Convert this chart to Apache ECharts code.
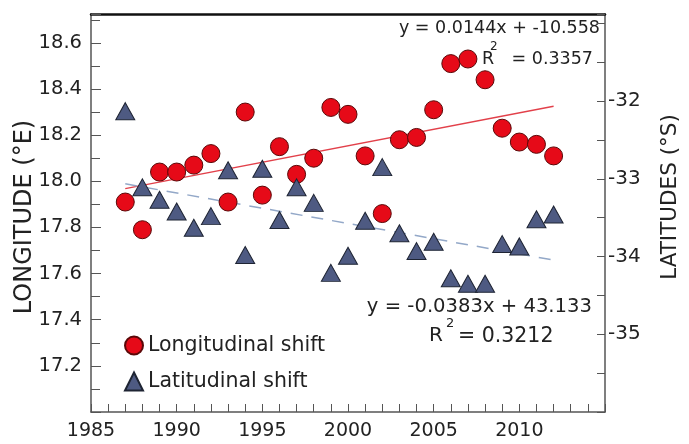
<!DOCTYPE html>
<html>
<head>
<meta charset="utf-8">
<script src="https://cdn.jsdelivr.net/npm/echarts@6/dist/echarts.min.js"></script>
<style>html,body{margin:0;padding:0;background:#fff}#c{width:689px;height:444px}</style>
</head>
<body>
<div id="c"></div>
<script>
// ---- data ----
const years = [1987,1988,1989,1990,1991,1992,1993,1994,1995,1996,1997,1998,1999,2000,2001,2002,2003,2004,2005,2006,2007,2008,2009,2010,2011,2012];
const longitude = [17.91,17.79,18.04,18.04,18.07,18.12,17.91,18.30,17.94,18.15,18.03,18.10,18.32,18.29,18.11,17.86,18.18,18.19,18.31,18.51,18.53,18.44,18.23,18.17,18.16,18.11];
const latitude = [-32.13,-33.11,-33.27,-33.42,-33.63,-33.48,-32.89,-33.98,-32.87,-33.53,-33.11,-33.31,-34.21,-33.99,-33.54,-32.85,-33.70,-33.93,-33.81,-34.28,-34.35,-34.35,-33.84,-33.87,-33.52,-33.46];
const xTickLabels = [1985,1990,1995,2000,2005,2010];
const leftTickLabels = [17.2,17.4,17.6,17.8,18.0,18.2,18.4,18.6];
const rightTickLabels = [-32,-33,-34,-35];
const seriesNames = ['Longitudinal shift','Latitudinal shift'];
const eqLon = ['y = 0.0144x + -10.558', '0.3357'];
const eqLat = ['y = -0.0383x + 43.133', '0.3212'];
const axisTitles = ['LONGITUDE (°E)','LATITUDES (°S)'];

function fit(xs, ys){
  const n = xs.length;
  const mx = xs.reduce((a,b)=>a+b,0)/n, my = ys.reduce((a,b)=>a+b,0)/n;
  let sxy=0, sxx=0;
  for(let i=0;i<n;i++){sxy+=(xs[i]-mx)*(ys[i]-my); sxx+=(xs[i]-mx)*(xs[i]-mx);}
  const b = sxy/sxx, a = my - b*mx;
  const x0 = xs[0], x1 = xs[n-1];
  return [[x0, a+b*x0],[x1, a+b*x1]];
}
const lonFit = fit(years, longitude);
const latFit = fit(years, latitude);

const txt = '#222';
const font = '"DejaVu Sans", Arial, sans-serif';
const near = (v, arr) => arr.some(t => Math.abs(t - v) < 1e-6);

const chart = echarts.init(document.getElementById('c'), null, {renderer:'canvas'});
chart.setOption({
  animation: false,
  backgroundColor: '#fff',
  textStyle: {fontFamily: font},
  grid: {left: 91, right: 84, top: 14, bottom: 32, show: false},
  legend: {
    data: seriesNames, orient: 'vertical', left: 124, top: 335, padding: 0,
    itemWidth: 18, itemHeight: 18, itemGap: 15,
    textStyle: {fontSize: 20.5, color: txt, fontFamily: font}
  },
  xAxis: [{
    type: 'value', min: 1985, max: 2015, interval: 5, position: 'bottom',
    axisLine: {show: true, lineStyle: {color: '#555', width: 1.5}},
    axisTick: {show: true, inside: true, length: 8, lineStyle: {color: '#555'}},
    minorTick: {show: true, splitNumber: 5, length: 8, lineStyle: {color: '#555'}},
    splitLine: {show: false},
    axisLabel: {fontSize: 19, color: txt, margin: 10, showMaxLabel: false,
      formatter: v => near(v, xTickLabels) ? String(v) : ''}
  },{
    type: 'value', min: 1985, max: 2015, position: 'top',
    axisLine: {show: true, lineStyle: {color: '#111', width: 2.5}},
    axisTick: {show: false}, axisLabel: {show: false}, splitLine: {show: false}
  }],
  yAxis: [{
    type: 'value', min: 17.0, max: 18.725, interval: 0.2, position: 'left',
    axisLine: {show: true, lineStyle: {color: '#555', width: 1.5}},
    axisTick: {show: true, inside: true, length: 10, lineStyle: {color: '#555'}},
    minorTick: {show: true, splitNumber: 2, length: 9, lineStyle: {color: '#555'}},
    splitLine: {show: false},
    axisLabel: {fontSize: 19.5, color: txt, margin: 9, showMinLabel: false, showMaxLabel: false,
      formatter: v => near(v, leftTickLabels) ? v.toFixed(1) : ''}
  },{
    type: 'value', min: -36, max: -30.88, interval: 1, position: 'right',
    axisLine: {show: true, lineStyle: {color: '#555', width: 1.5}},
    axisTick: {show: true, inside: true, length: 8, lineStyle: {color: '#555'}},
    minorTick: {show: true, splitNumber: 2, length: 8, lineStyle: {color: '#555'}},
    splitLine: {show: false},
    axisLabel: {fontSize: 20, color: txt, margin: 3, showMinLabel: false, showMaxLabel: false,
      formatter: v => near(v, rightTickLabels) ? String(Math.round(v)) : ''}
  }],
  series: [{
    name: 'lonTrend', type: 'line', yAxisIndex: 0, data: lonFit, symbol: 'none', z: 1,
    lineStyle: {color: '#e2404a', width: 1.3}, silent: true
  },{
    name: 'latTrend', type: 'line', yAxisIndex: 1, data: latFit, symbol: 'none', z: 1,
    lineStyle: {color: '#93a8c8', width: 1.5, type: [12, 9]}, silent: true
  },{
    name: seriesNames[0], type: 'scatter', yAxisIndex: 0, z: 3,
    data: years.map((y,i)=>[y, longitude[i]]),
    symbol: 'circle', symbolSize: 18,
    itemStyle: {color: '#e60a18', borderColor: '#5a0808', borderWidth: 1, opacity: 1}
  },{
    name: seriesNames[1], type: 'scatter', yAxisIndex: 1, z: 4,
    data: years.map((y,i)=>[y, latitude[i]]),
    symbol: 'triangle', symbolSize: [19, 17],
    itemStyle: {color: '#4e5a82', borderColor: '#1e2433', borderWidth: 1, opacity: 1}
  }],
  graphic: [
    {type:'text', right: 89, top: 19, style:{text: eqLon[0], font: '17.5px ' + font, fill: txt}},
    {type:'text', left: 482, top: 50, style:{text: 'R', font: '17.5px ' + font, fill: txt}},
    {type:'text', left: 490, top: 41, style:{text: '2', font: '12px ' + font, fill: txt}},
    {type:'text', right: 96, top: 50, style:{text: '= ' + eqLon[1], font: '17.5px ' + font, fill: txt}},
    {type:'text', right: 97, top: 297, style:{text: eqLat[0], font: '19.6px ' + font, fill: txt}},
    {type:'text', left: 429, top: 326, style:{text: 'R', font: '20px ' + font, fill: txt}},
    {type:'text', left: 446, top: 317, style:{text: '2', font: '13px ' + font, fill: txt}},
    {type:'text', left: 458, top: 326, style:{text: '= ' + eqLat[1], font: '20.5px ' + font, fill: txt}},
    {type:'text', x: 25, y: 217, rotation: Math.PI/2,
      style:{text: axisTitles[0], font: '24px ' + font, fill: txt, align: 'center', verticalAlign: 'middle'}},
    {type:'text', x: 670, y: 197, rotation: Math.PI/2,
      style:{text: axisTitles[1], font: '21.5px ' + font, fill: txt, align: 'center', verticalAlign: 'middle'}}
  ]
});
</script>
</body>
</html>
